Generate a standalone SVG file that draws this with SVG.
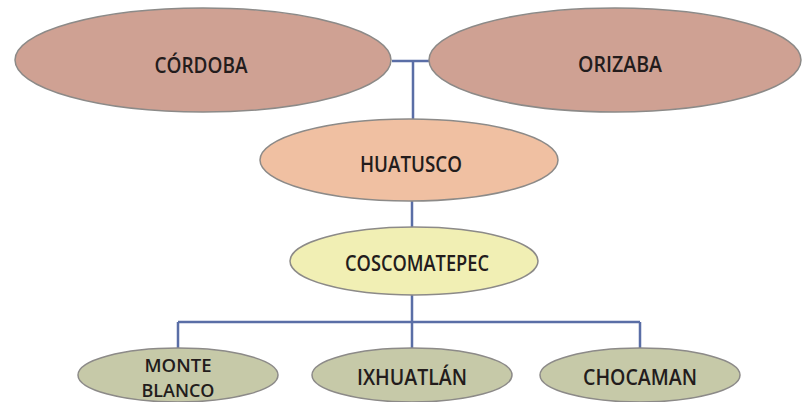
<svg xmlns="http://www.w3.org/2000/svg" width="805" height="402" viewBox="0 0 805 402">
<style>
.e{stroke:#8c8a88;stroke-width:1.5}
.top{fill:#cfa193}
.hua{fill:#f0c0a2}
.cos{fill:#f1efb4}
.bot{fill:#c6c9a8}
text{font-family:"Open Sans","Liberation Sans",sans-serif;font-size:21px;font-weight:600;fill:#231c1c;text-anchor:middle}
.two{font-size:18px}
.c{fill:none;stroke:#5a6ea6;stroke-width:2.5}
</style>
<rect width="805" height="402" fill="#ffffff"/>
<g id="connectors">
<path class="c" d="M392 61H430M413 61V119"/>
<path class="c" d="M412 201V227"/>
<path class="c" d="M412 295V348M178 322H640M178 322V348M640 322V348"/>
</g>
<g id="cordoba"><ellipse class="e top" cx="203" cy="60" rx="188" ry="52"/><text x="201" y="73" textLength="93" lengthAdjust="spacingAndGlyphs">CÓRDOBA</text></g>
<g id="orizaba"><ellipse class="e top" cx="615" cy="60" rx="186" ry="52"/><text x="620" y="72" textLength="84" lengthAdjust="spacingAndGlyphs">ORIZABA</text></g>
<g id="huatusco"><ellipse class="e hua" cx="409" cy="160" rx="149" ry="41"/><text x="411" y="172" textLength="102" lengthAdjust="spacingAndGlyphs">HUATUSCO</text></g>
<g id="coscomatepec"><ellipse class="e cos" cx="414" cy="261" rx="124" ry="34"/><text x="417" y="271" textLength="144" lengthAdjust="spacingAndGlyphs">COSCOMATEPEC</text></g>
<g id="monteblanco"><ellipse class="e bot" cx="178" cy="375" rx="100" ry="27"/><text class="two" x="178" y="372" textLength="67" lengthAdjust="spacingAndGlyphs">MONTE</text><text class="two" x="178" y="397" textLength="73" lengthAdjust="spacingAndGlyphs">BLANCO</text></g>
<g id="ixhuatlan"><ellipse class="e bot" cx="412" cy="375" rx="100" ry="27"/><text x="412" y="385" textLength="110" lengthAdjust="spacingAndGlyphs">IXHUATLÁN</text></g>
<g id="chocaman"><ellipse class="e bot" cx="640" cy="375" rx="100" ry="27"/><text x="640" y="385" textLength="114" lengthAdjust="spacingAndGlyphs">CHOCAMAN</text></g>
</svg>
